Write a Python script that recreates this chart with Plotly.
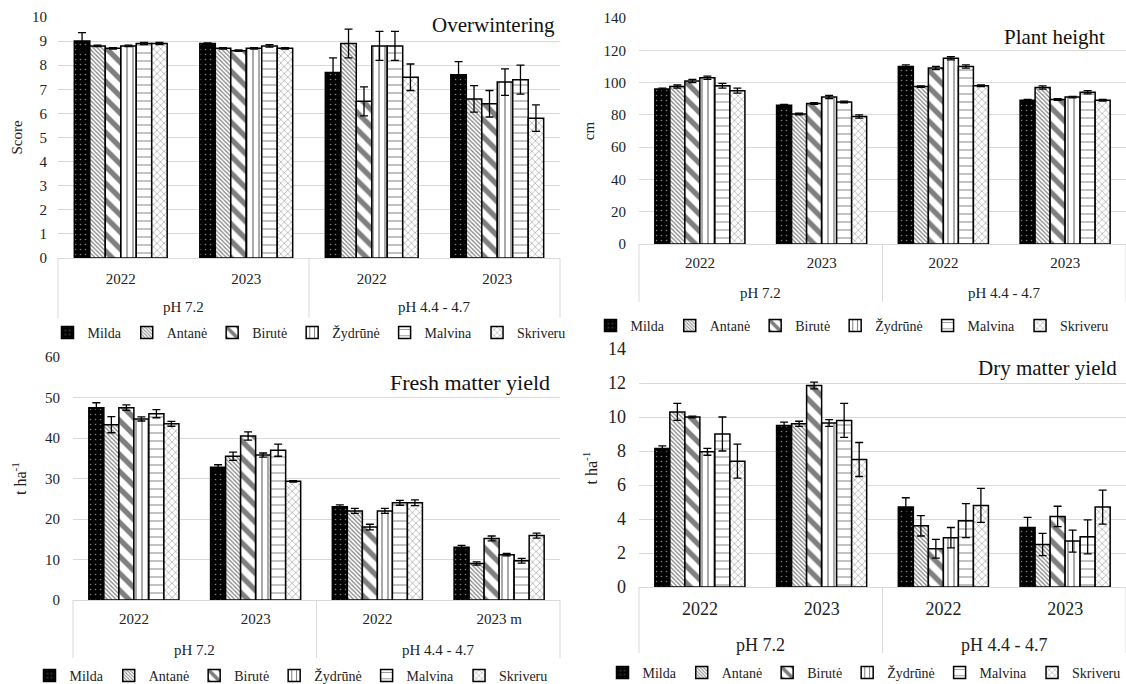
import plotly.graph_objects as go

cultivars = ["Milda", "Antanė", "Birutė", "Žydrūnė", "Malvina", "Skriveru"]
ph_groups = ["pH 7.2", "pH 7.2", "pH 4.4 - 4.7", "pH 4.4 - 4.7"]
ph_labels = ["pH 7.2", "pH 4.4 - 4.7"]
years = ["2022", "2023", "2022", "2023"]
years_fresh = ["2022", "2023", "2022", "2023 m"]

# rows: cultivars, columns: pH7.2-2022, pH7.2-2023, pH4.4-2022, pH4.4-2023
ow_mean = [[9.0, 8.9, 7.7, 7.6], [8.8, 8.7, 8.9, 6.6], [8.7, 8.6, 6.5, 6.4],
           [8.8, 8.7, 8.8, 7.3], [8.9, 8.8, 8.8, 7.4], [8.9, 8.7, 7.5, 5.8]]
ow_err = [[0.35, 0.03, 0.6, 0.55], [0.03, 0.03, 0.6, 0.55], [0.03, 0.03, 0.6, 0.55],
          [0.03, 0.03, 0.6, 0.55], [0.05, 0.05, 0.6, 0.6], [0.05, 0.03, 0.55, 0.55]]

ph_mean = [[96, 86, 110, 89], [97.5, 80.5, 97.5, 97], [101, 87, 109, 89.5],
           [103, 91, 115, 91], [98, 88, 110, 94], [95, 79, 98, 89]]
ph_err = [[0.5, 0.5, 1.0, 0.5], [1.0, 0.5, 0.5, 1.0], [1.0, 0.5, 1.0, 0.5],
          [1.0, 1.0, 1.0, 0.5], [1.5, 0.5, 1.0, 1.0], [1.5, 1.0, 0.5, 0.5]]

fm_mean = [[47.5, 32.8, 23.0, 13.0], [43.3, 35.5, 22.0, 9.0], [47.5, 40.5, 18.0, 15.2],
           [44.7, 35.8, 22.0, 11.2], [46.0, 37.0, 24.0, 9.7], [43.5, 29.3, 24.0, 15.9]]
fm_err = [[1.2, 0.6, 0.5, 0.5], [2.0, 1.0, 0.6, 0.4], [0.7, 1.0, 0.7, 0.6],
          [0.5, 0.5, 0.6, 0.3], [1.0, 1.5, 0.6, 0.6], [0.6, 0.2, 0.7, 0.6]]

dm_mean = [[8.15, 9.5, 4.7, 3.5], [10.3, 9.6, 3.6, 2.5], [10.0, 11.85, 2.25, 4.15],
           [7.95, 9.65, 2.9, 2.7], [9.0, 9.8, 3.9, 2.95], [7.4, 7.5, 4.8, 4.7]]
dm_err = [[0.15, 0.2, 0.55, 0.6], [0.5, 0.15, 0.6, 0.65], [0.05, 0.2, 0.55, 0.6],
          [0.2, 0.2, 0.6, 0.65], [1.0, 1.0, 1.0, 1.0], [1.0, 1.0, 1.0, 1.0]]

patterns = [
    dict(color="black", shape=".", fg="white", size=5, sol=0.08),
    dict(color="white", shape="\\", fg="black", size=3, sol=0.4),
    dict(color="white", shape="\\", fg="black", size=12, sol=0.45),
    dict(color="white", shape="|", fg="black", size=6, sol=0.22),
    dict(color="white", shape="-", fg="black", size=8, sol=0.12),
    dict(color="white", shape="x", fg="#333333", size=5, sol=0.22),
]

FONT = "Liberation Serif"
GRID = "#d9d9d9"
TXT = "#222222"
W, H = 1126, 684


def px_x(v):
    return v / W


def px_y(v):
    return (H - v) / H


# pixel geometry of each panel: plot left/right, y of axis zero and top, label rows
panels = [
    dict(mean=ow_mean, err=ow_err, yrs=years, name="Overwintering", ytitle="Score",
         left=58, right=560, y0=258, ytop=17, yr=[0, 10], dt=1,
         yearoff=7, ylab=10, tstand=5, phy=307, divb=318, legx=309, legy=333,
         tfs=15, xfs=15, titfs=15, tx=557, ty=25, tfsz=21),
    dict(mean=ph_mean, err=ph_err, yrs=years, name="Plant height", ytitle="cm",
         left=639, right=1126, y0=244, ytop=18, yr=[0, 140], dt=20,
         yearoff=5, ylab=12, tstand=5, phy=293, divb=302, legx=852, legy=326,
         tfs=15, xfs=15, titfs=15, tx=1107, ty=37, tfsz=21),
    dict(mean=fm_mean, err=fm_err, yrs=years_fresh, name="Fresh matter yield", ytitle="t ha<sup>-1</sup>",
         left=73, right=560, y0=600, ytop=357, yr=[0, 60], dt=10,
         yearoff=5, ylab=12, tstand=14, phy=650, divb=658, legx=291, legy=676,
         tfs=15, xfs=15, titfs=16, tx=552, ty=382, tfsz=22),
    dict(mean=dm_mean, err=dm_err, yrs=years, name="Dry matter yield", ytitle="t ha<sup>-1</sup>",
         left=639, right=1126, y0=587, ytop=349, yr=[0, 14], dt=2,
         yearoff=5, ylab=12, tstand=6, phy=645, divb=653, legx=864, legy=673,
         tfs=18, xfs=18, titfs=16, tx=1119, ty=368, tfsz=21),
]

fig = go.Figure()
layout = dict(
    width=W, height=H, margin=dict(l=0, r=0, t=0, b=0, autoexpand=False),
    paper_bgcolor="white", plot_bgcolor="white",
    font=dict(family=FONT, color=TXT, size=14),
    barmode="group", bargap=0.26, bargroupgap=0,
)

for k, p in enumerate(panels):
    sfx = "" if k == 0 else str(k + 1)
    xa, ya = "x" + sfx, "y" + sfx
    cats = [g + " | " + y for g, y in zip(ph_groups, p["yrs"])]
    for i, c in enumerate(cultivars):
        pt = patterns[i]
        fig.add_trace(go.Bar(
            x=cats, y=p["mean"][i], name=c,
            xaxis=xa, yaxis=ya, legend="legend" + sfx,
            marker=dict(color=pt["color"], line=dict(color="black", width=1.5),
                        pattern=dict(shape=pt["shape"], fgcolor=pt["fg"], bgcolor=pt["color"],
                                     size=pt["size"], solidity=pt["sol"], fillmode="overlay")),
            error_y=dict(type="data", array=p["err"][i], color="black", thickness=1.3, width=4),
        ))
    layout["xaxis" + sfx] = dict(
        domain=[px_x(p["left"]), px_x(p["right"])], anchor=ya, type="category",
        categoryorder="array", categoryarray=cats, range=[-0.5, 3.5],
        tickmode="array", tickvals=cats, ticktext=p["yrs"],
        showgrid=False, showline=True, linecolor=GRID, linewidth=1, automargin=False,
        ticks="", ticklabelstandoff=p["yearoff"],
        tickfont=dict(family=FONT, size=p["xfs"], color=TXT),
    )
    layout["yaxis" + sfx] = dict(
        domain=[px_y(p["y0"]), px_y(p["ytop"])], anchor=xa, range=p["yr"], dtick=p["dt"],
        showgrid=True, gridcolor=GRID, gridwidth=1, zeroline=False, showline=False,
        ticks="", automargin=False, ticklabelstandoff=p["ylab"],
        tickfont=dict(family=FONT, size=p["tfs"], color=TXT),
        title=dict(text=p["ytitle"], standoff=p["tstand"],
                   font=dict(family=FONT, size=p["titfs"], color=TXT)),
    )
    layout["legend" + sfx] = dict(
        orientation="h", x=px_x(p["legx"]), y=px_y(p["legy"]), xanchor="center", yanchor="middle",
        font=dict(family=FONT, size=14, color=TXT),
        bgcolor="rgba(0,0,0,0)", itemwidth=30,
    )
    # outer group labels and divider lines of the two-level category axis
    span = p["right"] - p["left"]
    for j, lab in enumerate(ph_labels):
        fig.add_annotation(text=lab, xref="paper", yref="paper",
                           x=px_x(p["left"] + span * (0.25 + 0.5 * j)), y=px_y(p["phy"]),
                           xanchor="center", yanchor="middle", showarrow=False,
                           font=dict(family=FONT, size=p["xfs"], color=TXT))
    for fx in (0.0, 0.5, 1.0):
        fig.add_shape(type="line", xref=xa + " domain", yref="paper",
                      x0=fx, x1=fx, y0=px_y(p["y0"]), y1=px_y(p["divb"]),
                      line=dict(color=GRID, width=1))
    fig.add_annotation(text=p["name"], xref="paper", yref="paper",
                       x=px_x(p["tx"]), y=px_y(p["ty"]), xanchor="right", yanchor="middle",
                       showarrow=False, font=dict(family=FONT, size=p["tfsz"], color="#111111"))

fig.update_layout(**layout)
fig.write_html("out.html", config={"displayModeBar": False},
               post_script="document.body.style.margin='0px';")
